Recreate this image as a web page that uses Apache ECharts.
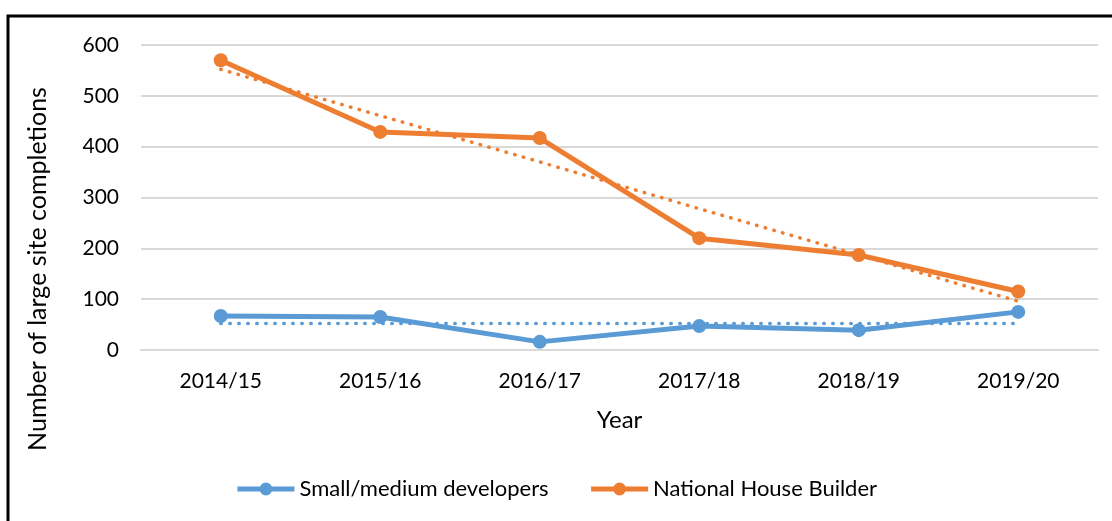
<!DOCTYPE html>
<html>
<head>
<meta charset="utf-8">
<script src="https://cdn.jsdelivr.net/npm/echarts@6/dist/echarts.min.js"></script>
<style>
  html, body { margin: 0; padding: 0; background: #fff; }
  #chart { width: 1112px; height: 521px; }
</style>
</head>
<body>
<div id="chart"></div>
<script>
  // values
  const years = ['2014/15', '2015/16', '2016/17', '2017/18', '2018/19', '2019/20']
  const smallMedium = [67, 65, 16, 47, 39, 75]
  const nationalBuilder = [570, 429, 417, 220, 187, 115]
  // dotted trend lines, as drawn
  const smallTrend = [52, 52, 52, 52, 52, 52]
  const nationalTrend = [552, 461, 370, 278, 187, 96]
  const yTicks = { min: 0, max: 600, step: 100 }

  const blue = '#5b9bd5'
  const orange = '#ed7d31'
  const font = 'Lato, "Noto Sans", sans-serif'

  let chart = echarts.init(document.getElementById('chart'))

  let line = (name, data, color) => ({
    name: name,
    type: 'line',
    data: data,
    symbol: 'circle',
    symbolSize: 14,
    z: 3,
    itemStyle: { color: color },
    lineStyle: { color: color, width: 5 }
  })

  let trend = (data, color) => ({
    type: 'line',
    data: data,
    symbol: 'none',
    z: 2,
    silent: true,
    lineStyle: { color: color, width: 3.5, type: [0.5, 8.5], cap: 'round' }
  })

  chart.setOption({
    animation: false,
    textStyle: { fontFamily: font },
    graphic: [{
      type: 'rect',
      shape: { x: 8, y: 16, width: 1300, height: 700 },
      style: { fill: 'none', stroke: '#000', lineWidth: 3 }
    }, {
      type: 'text',
      rotation: Math.PI / 2,
      x: 38, y: 269,
      style: {
        text: 'Number of large site completions',
        font: '25px ' + font,
        fill: '#000',
        align: 'center',
        verticalAlign: 'middle'
      }
    }],
    legend: {
      bottom: 16,
      left: 'center',
      itemGap: 40,
      itemWidth: 57,
      itemHeight: 16,
      lineStyle: { width: 5 },
      data: ['Small/medium developers', 'National House Builder'],
      textStyle: { fontSize: 22, color: '#000', fontFamily: font }
    },
    grid: { left: 141, right: 14, top: 45, bottom: 171 },
    xAxis: {
      type: 'category',
      data: years,
      name: 'Year',
      nameLocation: 'middle',
      nameGap: 58,
      nameTextStyle: { fontSize: 24, color: '#000' },
      axisLine: { lineStyle: { color: '#d9d9d9', width: 2 } },
      axisTick: { show: false },
      axisLabel: { fontSize: 21, color: '#000', margin: 21 }
    },
    yAxis: {
      type: 'value',
      min: yTicks.min,
      max: yTicks.max,
      interval: yTicks.step,
      axisLine: { show: false },
      axisTick: { show: false },
      axisLabel: { fontSize: 21, color: '#000', margin: 22 },
      splitLine: { lineStyle: { color: '#d9d9d9', width: 2 } }
    },
    series: [
      line('Small/medium developers', smallMedium, blue),
      line('National House Builder', nationalBuilder, orange),
      trend(smallTrend, blue),
      trend(nationalTrend, orange)
    ]
  })
</script>
</body>
</html>
